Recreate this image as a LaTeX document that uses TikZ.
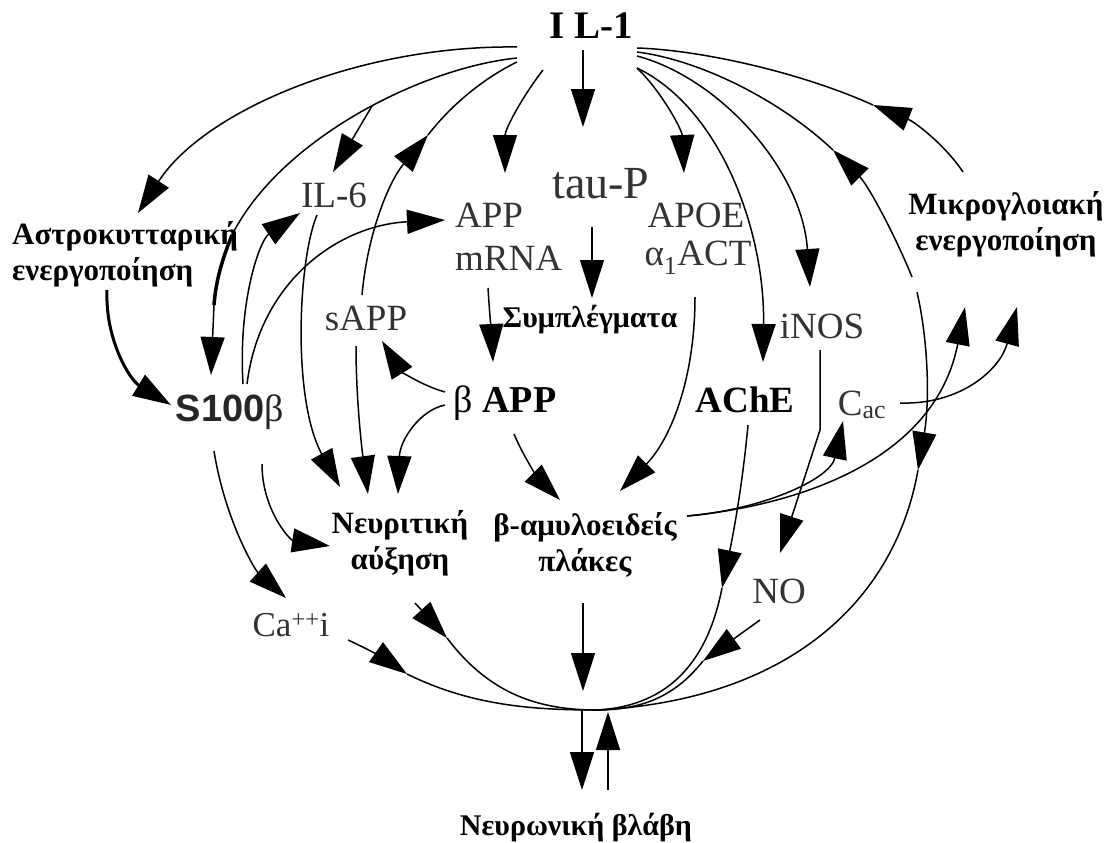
\documentclass[tikz,border=0pt]{standalone}
\usepackage{fontspec}
\setmainfont{Liberation Serif}
\setsansfont{Liberation Sans}
\usetikzlibrary{arrows.meta}
\begin{document}
\begin{tikzpicture}[x=1pt,y=-1pt,
  lab/.style={inner sep=0pt, text=black!80, font=\fontsize{37}{40}\selectfont},
  blab/.style={inner sep=0pt, align=center, font=\bfseries\fontsize{31}{36}\selectfont},
  arr/.style={-{Triangle[length=38pt,width=24pt]}, line width=1.5pt},
  ln/.style={line width=1.5pt},
  thick3/.style={line width=3.5pt}]
\useasboundingbox (0,0) rectangle (1111,843);
% ---------- nodes ----------
\node[blab, font=\bfseries\fontsize{39}{40}\selectfont] (IL1) at (591,26) {I L-1};
\node[lab, font=\fontsize{46}{48}\selectfont] (tauP) at (601,184) {tau-P};
\node[lab, anchor=west] (APP) at (455,215) {APP};
\node[lab, anchor=west] (mRNA) at (455,258) {mRNA};
\node[lab] (APOE) at (696,215) {APOE};
\node[lab] (ACT) at (698,258) {α\textsubscript{1}ACT};
\node[lab] (IL6) at (334,195) {IL-6};
\node[blab, anchor=west, align=left] (astro) at (12,254) {Αστροκυτταρική\\ενεργοποίηση};
\node[blab] (micro) at (1006,224) {Μικρογλοιακή\\ενεργοποίηση};
\node[lab] (sAPP) at (366,318) {sAPP};
\node[blab, font=\bfseries\fontsize{30}{32}\selectfont] (sympl) at (590,320) {Συμπλέγματα};
\node[lab] (iNOS) at (822,326) {iNOS};
\node[inner sep=0pt, text=black!85] (S100) at (230,412) {\sffamily\bfseries\fontsize{38}{40}\selectfont S100\rmfamily\mdseries β};
\node[inner sep=0pt, font=\fontsize{38}{40}\selectfont] (bAPP) at (505,403) {β \textbf{APP}};
\node[blab, font=\bfseries\fontsize{37}{40}\selectfont] (AChE) at (745,400) {AChE};
\node[lab] (Cac) at (862,405) {C\textsubscript{ac}};
\node[blab] (neur) at (400,543) {Νευριτική\\αύξηση};
\node[blab] (bam) at (585,545) {β-αμυλοειδείς\\πλάκες};
\node[lab] (NO) at (779,591) {NO};
\node[lab, font=\fontsize{35}{38}\selectfont] (Ca) at (291,625) {Ca\textsuperscript{++}i};
\node[blab, font=\bfseries\fontsize{30}{32}\selectfont] (damage) at (576,828) {Νευρωνική βλάβη};
% ---------- coordinates ----------
\coordinate (hub) at (597,710);
\coordinate (il1a) at (517,47);
\coordinate (il1b) at (517,58);
\coordinate (il1c) at (543,70);
\coordinate (il1d) at (583,50);
\coordinate (il1e) at (637,68);
\coordinate (il1f) at (637,48);
\coordinate (il1g) at (637,52);
\coordinate (il1h) at (637,56);
\coordinate (il1i) at (637,68);
\coordinate (il1j) at (517,62);
% ---------- IL-1 outgoing ----------
\draw[arr] (il1a) .. controls (360,45) and (205,110) .. (138,213);
\draw[ln] (il1b) .. controls (420,68) and (280,140) .. (232,235) coordinate (k1);
\coordinate (br6) at (372,106);
\draw[thick3] (k1) .. controls (222,260) and (216,280) .. (214,305) coordinate (k2);
\draw[arr] (k2) -- (211,375);
\draw[arr] (br6) -- (333,172);
\draw[arr] (il1c) .. controls (520,100) and (505,130) .. (505,173);
\draw[arr] (il1d) -- (583,127);
\draw[arr] (il1e) .. controls (662,92) and (682,130) .. (684,173);
\draw[arr] (il1h) .. controls (720,78) and (802,170) .. (810,287);
\draw[arr] (il1i) .. controls (720,108) and (765,230) .. (763,362);
% microglia -> IL-1 (mid heads)
\coordinate (m1) at (873,105);
\draw[arr] (963,172) .. controls (945,145) and (915,122) .. (m1);
\draw[ln] (m1) .. controls (800,72) and (700,50) .. (il1f);
\coordinate (m2) at (833,150);
\draw[arr] (912,277) .. controls (895,235) and (868,185) .. (m2);
\draw[ln] (m2) .. controls (780,100) and (700,60) .. (il1g);
% big right arc
\coordinate (m3) at (918,470);
\draw[arr] (917,292) .. controls (928,340) and (930,400) .. (m3);
\draw[ln] (m3) .. controls (895,600) and (790,700) .. (hub);
% sAPP -> IL-1
\coordinate (m4) at (428,135);
\draw[arr] (362,295) .. controls (368,230) and (390,180) .. (m4);
\draw[ln] (m4) .. controls (455,100) and (490,75) .. (il1j);
% ---------- middle ----------
\draw[arr] (592,227) -- (592,298);
\draw[arr] (488,288) .. controls (490,320) and (492,340) .. (493,362);
\draw[arr] (445,392) .. controls (420,385) and (400,370) .. (382,341);
\draw[arr] (445,405) .. controls (420,410) and (400,440) .. (398,494);
\draw[arr] (356,346) .. controls (356,400) and (362,450) .. (368,494);
\draw[arr] (317,215) .. controls (298,260) and (292,400) .. (340,487);
\draw[arr] (243,384) .. controls (238,300) and (260,240) .. (300,213);
\draw[arr] (247,384) .. controls (260,280) and (340,225) .. (445,220);
\draw[arr, line width=3pt] (107,290) .. controls (105,340) and (130,380) .. (171,405);
\draw[arr] (262,464) .. controls (262,510) and (290,540) .. (330,546);
\draw[arr] (214,451) .. controls (225,520) and (255,570) .. (286,598);
\draw[arr] (514,434) .. controls (525,460) and (540,480) .. (560,500);
\draw[arr] (695,297) .. controls (695,380) and (670,440) .. (620,491);
% ---------- right ----------
\draw[arr] (820,350) -- (820,430) -- (780,553);
\draw[arr] (687,516) .. controls (760,510) and (830,480) .. (843,421);
\draw[arr] (687,516) .. controls (800,505) and (935,460) .. (965,307);
\draw[arr] (900,403) .. controls (960,405) and (1000,370) .. (1017,307);
% ---------- into hub ----------
\draw[arr] (583,603) -- (583,691);
\coordinate (m5) at (447,638);
\draw[arr] (415,603) -- (m5);
\draw[ln] (m5) .. controls (490,695) and (540,710) .. (hub);
\coordinate (m6) at (407,674);
\draw[arr] (348,640) .. controls (370,650) and (390,662) .. (m6);
\draw[ln] (m6) .. controls (470,705) and (530,710) .. (hub);
\coordinate (m7) at (722,588);
\draw[arr] (748,425) .. controls (742,490) and (732,540) .. (m7);
\draw[ln] (m7) .. controls (708,660) and (670,706) .. (hub);
\coordinate (m8) at (703,661);
\draw[arr] (760,620) -- (m8);
\draw[ln] (m8) .. controls (680,690) and (650,710) .. (hub);
% ---------- to damage ----------
\draw[arr] (582,710) -- (582,790);
\draw[arr] (608,790) -- (608,712);
\end{tikzpicture}
\end{document}
